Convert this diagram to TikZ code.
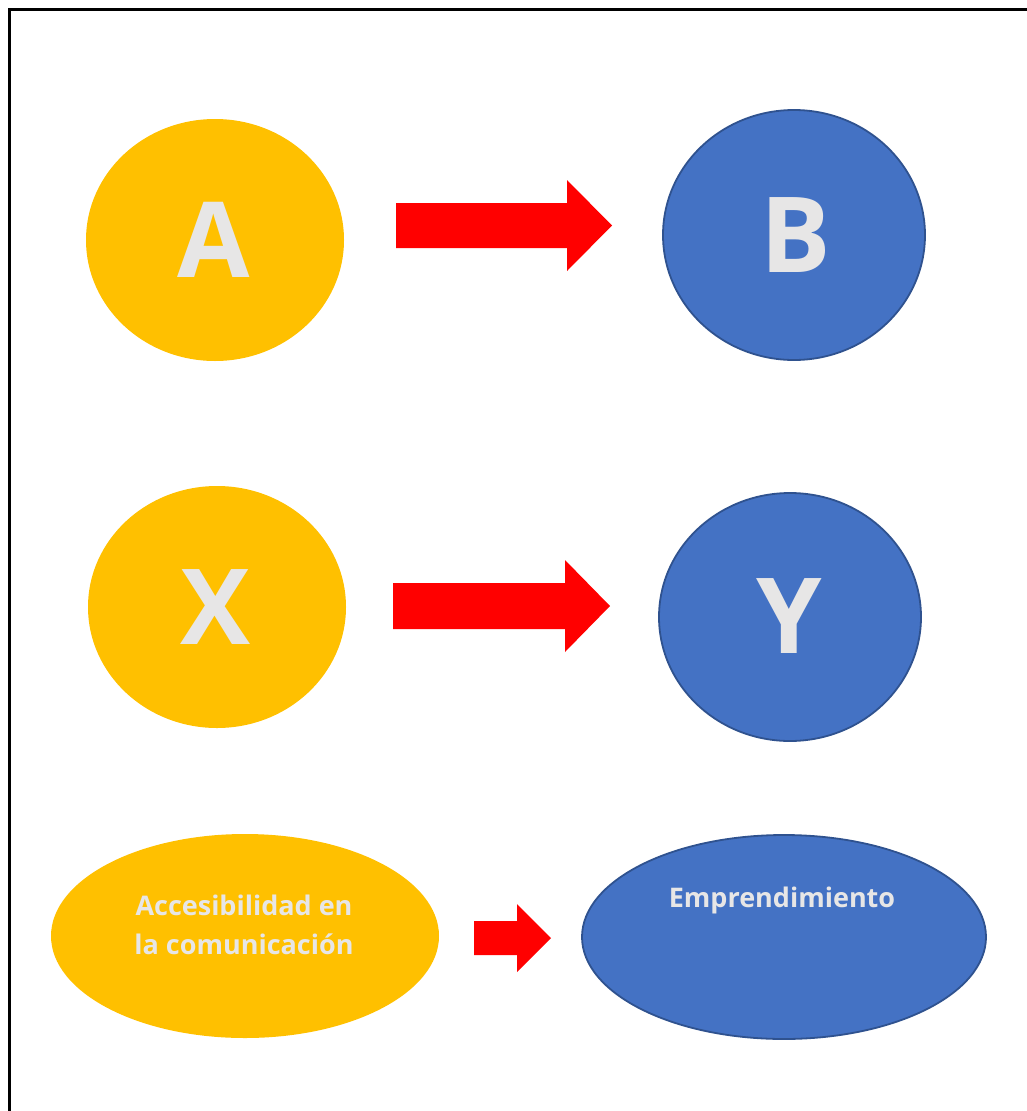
\documentclass[tikz,border=0pt]{standalone}
\usepackage{fontspec}
\setmainfont{Open Sans}
\definecolor{gold}{HTML}{FFC000}
\definecolor{bluefill}{HTML}{4472C4}
\definecolor{blueline}{HTML}{2F528F}
\definecolor{lightgray}{HTML}{E7E6E6}
\begin{document}
\begin{tikzpicture}[x=1pt,y=-1pt,
  yel/.style={fill=gold,draw=none},
  blu/.style={fill=bluefill,draw=blueline,line width=1.8pt},
  bigletter/.style={text=lightgray,font=\fontsize{105}{105}\selectfont\bfseries},
  smalltext/.style={text=lightgray,font=\fontsize{27}{39}\selectfont\bfseries,align=center},
  blockarrow/.style={fill=red,draw=none}]
\useasboundingbox (0,0) rectangle (1026,1111);
\draw[line width=2.5pt] (9.5,1130) -- (9.5,9.5) -- (1040,9.5);
% row 1
\fill[yel] (215,240) ellipse [x radius=129,y radius=121];
\node[bigletter] (A) at (214,240) {A};
\draw[blu] (794,235) ellipse [x radius=131,y radius=125];
\node[bigletter] (B) at (796,235) {B};
\fill[blockarrow] (396,203) -- (567,203) -- (567,180) -- (612,225.5) -- (567,271) -- (567,248) -- (396,248) -- cycle;
% row 2
\fill[yel] (217,607) ellipse [x radius=129,y radius=121];
\node[bigletter] (X) at (216,607) {X};
\draw[blu] (790,617) ellipse [x radius=131,y radius=124];
\node[bigletter] (Y) at (789,616) {Y};
\fill[blockarrow] (393,583) -- (565,583) -- (565,560) -- (610,606) -- (565,652) -- (565,629) -- (393,629) -- cycle;
% row 3
\fill[yel] (245,936) ellipse [x radius=194,y radius=102];
\node[smalltext] (acc) at (244,925) {Accesibilidad en\\la comunicación};
\draw[blu] (784,937) ellipse [x radius=202,y radius=102];
\node[smalltext] (emp) at (782,900) {Emprendimiento};
\fill[blockarrow] (474,921) -- (517,921) -- (517,904) -- (551,938) -- (517,972) -- (517,955) -- (474,955) -- cycle;
\end{tikzpicture}
\end{document}
